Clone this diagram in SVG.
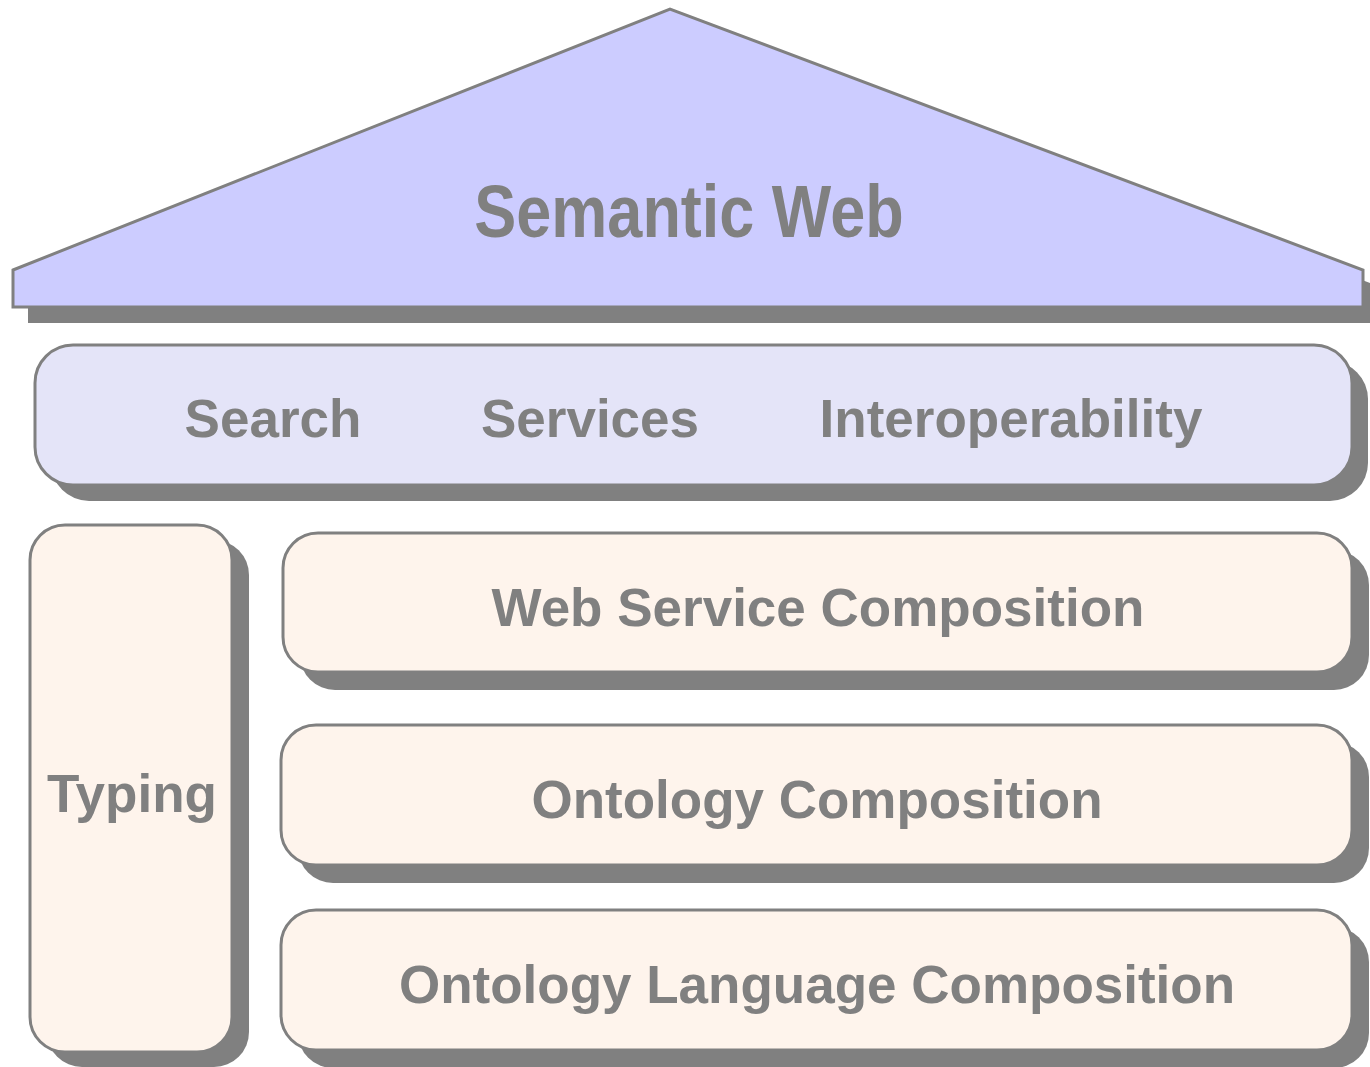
<svg xmlns="http://www.w3.org/2000/svg" width="1370" height="1067" viewBox="0 0 1370 1067">
  <style>
    .shadow { fill: #808080; }
    .frame { stroke: #808080; stroke-width: 3; }
    .roof { fill: #ccccff; }
    .band { fill: #e4e4f8; }
    .layer { fill: #fef4ec; }
    text { font-family: "Liberation Sans", Arial, sans-serif; font-weight: bold; fill: #808080; text-anchor: middle; }
    .label { font-size: 53px; }
  </style>

  <!-- roof -->
  <g id="semantic-web">
    <polygon class="shadow" points="28,286 685,25 1378,286 1378,323 28,323"/>
    <polygon class="roof frame" points="13,270 670,9 1363,270 1363,307 13,307"/>
    <text transform="translate(689,237) scale(1,1.18)" font-size="63">Semantic Web</text>
  </g>

  <!-- applications band -->
  <g id="applications">
    <rect class="shadow" x="51" y="361" width="1317" height="140" rx="38"/>
    <rect class="band frame" x="35" y="345" width="1317" height="140" rx="38"/>
    <text class="label" x="273" y="437">Search</text>
    <text class="label" x="590" y="437">Services</text>
    <text class="label" x="1011" y="437">Interoperability</text>
  </g>

  <!-- typing pillar -->
  <g id="typing">
    <rect class="shadow" x="47" y="540" width="202" height="527" rx="35"/>
    <rect class="layer frame" x="30" y="525" width="202" height="527" rx="35"/>
    <text class="label" x="132" y="812">Typing</text>
  </g>

  <!-- composition layers -->
  <g id="web-service-composition">
    <rect class="shadow" x="300" y="550" width="1069" height="140" rx="35"/>
    <rect class="layer frame" x="283" y="533" width="1069" height="139" rx="35"/>
    <text class="label" x="818" y="626">Web Service Composition</text>
  </g>

  <g id="ontology-composition">
    <rect class="shadow" x="298" y="742" width="1071" height="141" rx="35"/>
    <rect class="layer frame" x="281" y="725" width="1071" height="140" rx="35"/>
    <text class="label" x="817" y="818">Ontology Composition</text>
  </g>

  <g id="ontology-language-composition">
    <rect class="shadow" x="298" y="927" width="1071" height="141" rx="35"/>
    <rect class="layer frame" x="281" y="910" width="1071" height="140" rx="35"/>
    <text class="label" x="817" y="1003">Ontology Language Composition</text>
  </g>

  <g id="connectors"/>
</svg>
